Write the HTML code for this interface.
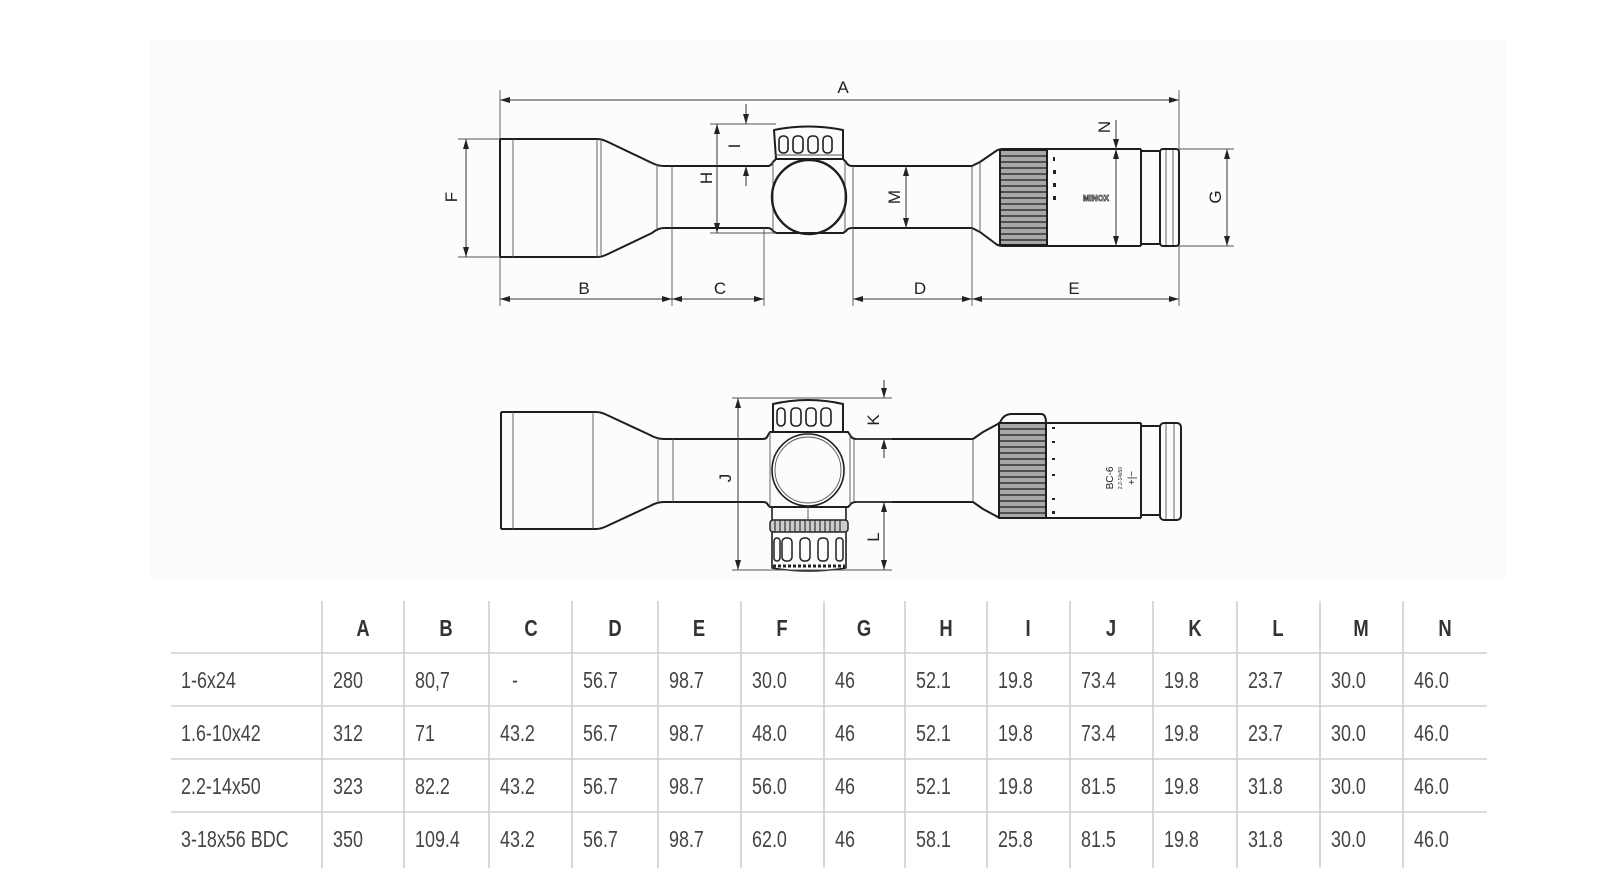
<!DOCTYPE html>
<html><head><meta charset="utf-8"><style>
html,body{margin:0;padding:0;background:#fff;}
svg{display:block;}
.o{fill:none;stroke:#1e1e1e;stroke-width:2;stroke-linejoin:round;}
.t{fill:none;stroke:#555;stroke-width:0.9;}
.d{fill:none;stroke:#333;stroke-width:1;}
.lbl{font-family:"Liberation Sans Narrow","Liberation Sans",sans-serif;font-size:17px;fill:#222;}
.th{font-family:"Liberation Sans Narrow","Liberation Sans",sans-serif;font-size:23px;fill:#333;font-weight:bold;}
.td{font-family:"Liberation Sans Narrow","Liberation Sans",sans-serif;font-size:23px;fill:#444;}
.g{stroke:#cfcfcf;stroke-width:1.6;}
</style></head><body>
<svg width="1601" height="894" viewBox="0 0 1601 894" xmlns="http://www.w3.org/2000/svg">
<defs>
<marker id="ar" viewBox="0 0 10 6" refX="10" refY="3" markerWidth="10" markerHeight="6" markerUnits="userSpaceOnUse" orient="auto-start-reverse"><path d="M0,0 L10,3 L0,6 z" fill="#222"/></marker>
</defs>
<rect x="150" y="40" width="1356" height="542" fill="#fcfcfc"/>

<!-- ===== TOP SCOPE ===== -->
<line class="t" x1="500" y1="90" x2="500" y2="306"/>
<line class="t" x1="1179" y1="90" x2="1179" y2="306"/>
<line class="d" x1="500" y1="100" x2="1179" y2="100" marker-start="url(#ar)" marker-end="url(#ar)"/>
<text class="lbl" x="843" y="93" text-anchor="middle">A</text>
<path class="o" d="M500,139 L597,139 Q602,139 608,142 L652,163 Q658,166 664,166 L768,166 Q771,166 773,162 L776,159 L843,159 L846,162 Q848,166 852,166 L972,166 L980,162 L996,151 Q999,149 1003,149 L1141,149"/>
<path class="o" d="M500,257 L597,257 Q602,257 608,254 L652,233 Q658,228 664,228 L768,228 Q771,228 773,231 L776,233 L843,233 L846,231 Q848,228 852,228 L972,228 L980,232 L996,244 Q999,246 1003,246 L1141,246"/>
<line class="o" x1="500" y1="139" x2="500" y2="257"/>
<line class="t" x1="513" y1="139" x2="513" y2="257"/>
<line class="t" x1="597" y1="139" x2="597" y2="257"/>
<line class="t" x1="601" y1="141" x2="601" y2="255"/>
<line class="t" x1="657" y1="164" x2="657" y2="230"/>
<line class="t" x1="672" y1="166" x2="672" y2="228"/>
<line class="t" x1="773" y1="162" x2="773" y2="231"/>
<line class="t" x1="845" y1="162" x2="845" y2="231"/>
<line class="t" x1="853" y1="166" x2="853" y2="228"/>
<path class="o" d="M776,159 L774,130 Q808,123 843,130 L843,159"/>
<line class="t" x1="775" y1="155" x2="843" y2="155"/>
<g class="o" style="stroke-width:1.6">
<rect x="779" y="136" width="9" height="17" rx="4"/><rect x="793" y="136" width="10" height="17" rx="4"/><rect x="808" y="136" width="10" height="17" rx="4"/><rect x="823" y="136" width="9" height="17" rx="4"/>
</g>
<circle class="o" cx="809" cy="197" r="37" style="stroke-width:2.4"/>
<line class="t" x1="972" y1="166" x2="972" y2="228"/>
<line class="t" x1="980" y1="162" x2="980" y2="232"/>
<rect x="1000" y="150" width="47" height="95" fill="#a8a8a8" stroke="#1e1e1e" stroke-width="2"/>
<g stroke="#333" stroke-width="1.4">
<line x1="1001" y1="156" x2="1046" y2="156"/><line x1="1001" y1="162" x2="1046" y2="162"/><line x1="1001" y1="168" x2="1046" y2="168"/><line x1="1001" y1="174" x2="1046" y2="174"/><line x1="1001" y1="180" x2="1046" y2="180"/><line x1="1001" y1="186" x2="1046" y2="186"/><line x1="1001" y1="192" x2="1046" y2="192"/><line x1="1001" y1="198" x2="1046" y2="198"/><line x1="1001" y1="204" x2="1046" y2="204"/><line x1="1001" y1="210" x2="1046" y2="210"/><line x1="1001" y1="216" x2="1046" y2="216"/><line x1="1001" y1="222" x2="1046" y2="222"/><line x1="1001" y1="228" x2="1046" y2="228"/><line x1="1001" y1="234" x2="1046" y2="234"/><line x1="1001" y1="240" x2="1046" y2="240"/>
</g>
<line class="o" x1="1141" y1="149" x2="1141" y2="246"/>
<path class="o" d="M1141,151 L1160,151 M1141,244 L1160,244"/>
<rect class="o" x="1160" y="149" width="19" height="97" rx="3"/>
<line class="t" x1="1166" y1="150" x2="1166" y2="245"/>
<line class="t" x1="1173" y1="150" x2="1173" y2="245"/>
<g fill="#222"><rect x="1053" y="157" width="2" height="4"/><rect x="1053" y="170" width="3" height="4"/><rect x="1053" y="183" width="3" height="4"/><rect x="1053" y="196" width="3" height="4"/></g>
<text x="1096" y="201" font-family="Liberation Sans" font-size="8" font-weight="bold" fill="#fff" stroke="#333" stroke-width="0.7" text-anchor="middle">MINOX</text>
<line class="t" x1="458" y1="139" x2="500" y2="139"/><line class="t" x1="458" y1="257" x2="500" y2="257"/>
<line class="d" x1="466" y1="139" x2="466" y2="257" marker-start="url(#ar)" marker-end="url(#ar)"/>
<text class="lbl" transform="translate(457,197) rotate(-90)" text-anchor="middle">F</text>
<line class="t" x1="710" y1="124" x2="776" y2="124"/><line class="t" x1="710" y1="233" x2="776" y2="233"/>
<line class="d" x1="717" y1="124" x2="717" y2="233" marker-start="url(#ar)" marker-end="url(#ar)"/>
<text class="lbl" transform="translate(712,178) rotate(-90)" text-anchor="middle">H</text>
<line class="d" x1="746" y1="104" x2="746" y2="124" marker-end="url(#ar)"/>
<line class="d" x1="746" y1="186" x2="746" y2="166" marker-end="url(#ar)"/>
<text class="lbl" transform="translate(740,146) rotate(-90)" text-anchor="middle">I</text>
<line class="d" x1="906" y1="166" x2="906" y2="228" marker-start="url(#ar)" marker-end="url(#ar)"/>
<text class="lbl" transform="translate(900,197) rotate(-90)" text-anchor="middle">M</text>
<line class="d" x1="1116" y1="120" x2="1116" y2="149" marker-end="url(#ar)"/>
<line class="d" x1="1116" y1="149" x2="1116" y2="246" marker-start="url(#ar)" marker-end="url(#ar)"/>
<text class="lbl" transform="translate(1110,127) rotate(-90)" text-anchor="middle">N</text>
<line class="t" x1="1179" y1="149" x2="1234" y2="149"/><line class="t" x1="1179" y1="246" x2="1234" y2="246"/>
<line class="d" x1="1227" y1="149" x2="1227" y2="246" marker-start="url(#ar)" marker-end="url(#ar)"/>
<text class="lbl" transform="translate(1221,197) rotate(-90)" text-anchor="middle">G</text>
<line class="t" x1="672" y1="228" x2="672" y2="306"/>
<line class="t" x1="764" y1="228" x2="764" y2="306"/>
<line class="t" x1="853" y1="228" x2="853" y2="306"/>
<line class="t" x1="972" y1="228" x2="972" y2="306"/>
<line class="d" x1="500" y1="299" x2="672" y2="299" marker-start="url(#ar)" marker-end="url(#ar)"/>
<line class="d" x1="672" y1="299" x2="764" y2="299" marker-start="url(#ar)" marker-end="url(#ar)"/>
<line class="d" x1="853" y1="299" x2="972" y2="299" marker-start="url(#ar)" marker-end="url(#ar)"/>
<line class="d" x1="972" y1="299" x2="1179" y2="299" marker-start="url(#ar)" marker-end="url(#ar)"/>
<text class="lbl" x="584" y="294" text-anchor="middle">B</text>
<text class="lbl" x="720" y="294" text-anchor="middle">C</text>
<text class="lbl" x="920" y="294" text-anchor="middle">D</text>
<text class="lbl" x="1074" y="294" text-anchor="middle">E</text>

<!-- ===== BOTTOM SCOPE ===== -->
<path class="o" d="M501,412 L596,412 Q601,412 607,415 L650,435 Q657,439 664,439 L763,439 Q767,439 768,435 L770,432 L848,432 L850,435 Q852,439 856,439 L973,439 L983,432 L996,425 Q999,423 1003,423 L1141,423"/>
<path class="o" d="M501,529 L596,529 Q601,529 607,526 L650,506 Q657,502 664,502 L763,502 Q767,502 768,505 L770,507 L848,507 L850,505 Q852,502 856,502 L973,502 L983,509 L996,516 Q999,518 1003,518 L1141,518"/>
<line class="o" x1="501" y1="412" x2="501" y2="529"/>
<line class="t" x1="513" y1="412" x2="513" y2="529"/>
<line class="t" x1="593" y1="412" x2="593" y2="529"/>
<line class="t" x1="658" y1="437" x2="658" y2="504"/>
<line class="t" x1="673" y1="439" x2="673" y2="502"/>
<line class="t" x1="770" y1="432" x2="770" y2="507"/>
<line class="t" x1="850" y1="435" x2="850" y2="505"/>
<line class="t" x1="854" y1="439" x2="854" y2="502"/>
<path class="o" d="M773,432 L773,404 Q808,396 843,404 L843,432"/>
<g class="o" style="stroke-width:1.6">
<rect x="777" y="408" width="8" height="18" rx="4"/><rect x="791" y="408" width="10" height="18" rx="4"/><rect x="806" y="408" width="10" height="18" rx="4"/><rect x="821" y="408" width="10" height="18" rx="4"/>
</g>
<circle class="o" cx="808" cy="470" r="36" style="stroke-width:1.6"/>
<circle class="t" cx="808" cy="470" r="33"/>
<path class="o" d="M772,507 L772,568 Q808,574 846,568 L846,507" style="stroke-width:1.6"/>
<rect x="770" y="520" width="78" height="12" rx="3" fill="#ccc" stroke="#222" stroke-width="1.5"/>
<g stroke="#333" stroke-width="1.2"><line x1="775" y1="520" x2="775" y2="532"/><line x1="780" y1="520" x2="780" y2="532"/><line x1="785" y1="520" x2="785" y2="532"/><line x1="790" y1="520" x2="790" y2="532"/><line x1="795" y1="520" x2="795" y2="532"/><line x1="800" y1="520" x2="800" y2="532"/><line x1="805" y1="520" x2="805" y2="532"/><line x1="810" y1="520" x2="810" y2="532"/><line x1="815" y1="520" x2="815" y2="532"/><line x1="820" y1="520" x2="820" y2="532"/><line x1="825" y1="520" x2="825" y2="532"/><line x1="830" y1="520" x2="830" y2="532"/><line x1="835" y1="520" x2="835" y2="532"/><line x1="840" y1="520" x2="840" y2="532"/></g>
<g class="o" style="stroke-width:1.5">
<rect x="774" y="538" width="6" height="23" rx="3"/><rect x="782" y="538" width="10" height="23" rx="4"/><rect x="800" y="538" width="10" height="23" rx="4"/><rect x="818" y="538" width="10" height="23" rx="4"/><rect x="836" y="538" width="7" height="23" rx="3"/>
</g>
<line x1="773" y1="566" x2="845" y2="566" stroke="#222" stroke-width="3" stroke-dasharray="3,2"/>
<line class="t" x1="808" y1="507" x2="808" y2="520"/>
<line class="t" x1="973" y1="439" x2="973" y2="502"/>
<path class="o" d="M1000,423 Q1003,414 1012,414 L1041,414 Q1046,414 1046,423"/>
<rect x="999" y="423" width="47" height="95" fill="#a8a8a8" stroke="#1e1e1e" stroke-width="2"/>
<g stroke="#333" stroke-width="1.4">
<line x1="1000" y1="429" x2="1045" y2="429"/><line x1="1000" y1="435" x2="1045" y2="435"/><line x1="1000" y1="441" x2="1045" y2="441"/><line x1="1000" y1="447" x2="1045" y2="447"/><line x1="1000" y1="453" x2="1045" y2="453"/><line x1="1000" y1="459" x2="1045" y2="459"/><line x1="1000" y1="465" x2="1045" y2="465"/><line x1="1000" y1="471" x2="1045" y2="471"/><line x1="1000" y1="477" x2="1045" y2="477"/><line x1="1000" y1="483" x2="1045" y2="483"/><line x1="1000" y1="489" x2="1045" y2="489"/><line x1="1000" y1="495" x2="1045" y2="495"/><line x1="1000" y1="501" x2="1045" y2="501"/><line x1="1000" y1="507" x2="1045" y2="507"/><line x1="1000" y1="513" x2="1045" y2="513"/>
</g>
<line class="o" x1="1141" y1="423" x2="1141" y2="518"/>
<path class="o" d="M1141,426 L1160,426 M1141,515 L1160,515"/>
<rect class="o" x="1160" y="423" width="21" height="97" rx="4"/>
<line class="t" x1="1166" y1="424" x2="1166" y2="519"/>
<line class="t" x1="1174" y1="424" x2="1174" y2="519"/>
<g fill="#222"><rect x="1052" y="427" width="3" height="2"/><rect x="1052" y="441" width="3" height="2"/><rect x="1052" y="458" width="3" height="2"/><rect x="1052" y="474" width="3" height="2"/><rect x="1052" y="498" width="3" height="2"/><rect x="1052" y="511" width="3" height="3"/></g>
<text transform="translate(1113,478) rotate(-90)" font-family="Liberation Sans Narrow,Liberation Sans,sans-serif" font-size="10" fill="#222" text-anchor="middle">BC-6</text>
<text transform="translate(1122,478) rotate(-90)" font-family="Liberation Sans" font-size="5" fill="#222" text-anchor="middle">2.2-14x50</text>
<text transform="translate(1135,478) rotate(-90)" font-family="Liberation Sans" font-size="10" fill="#222" text-anchor="middle">+|−</text>
<line class="t" x1="732" y1="398" x2="892" y2="398"/>
<line class="t" x1="732" y1="570" x2="892" y2="570"/>
<line class="d" x1="738" y1="398" x2="738" y2="570" marker-start="url(#ar)" marker-end="url(#ar)"/>
<text class="lbl" transform="translate(731,478) rotate(-90)" text-anchor="middle">J</text>
<line class="d" x1="884" y1="380" x2="884" y2="398" marker-end="url(#ar)"/>
<line class="d" x1="884" y1="458" x2="884" y2="439" marker-end="url(#ar)"/>
<line class="t" x1="856" y1="439" x2="892" y2="439"/>
<text class="lbl" transform="translate(879,420) rotate(-90)" text-anchor="middle">K</text>
<line class="t" x1="856" y1="502" x2="892" y2="502"/>
<line class="d" x1="884" y1="502" x2="884" y2="570" marker-start="url(#ar)" marker-end="url(#ar)"/>
<text class="lbl" transform="translate(879,537) rotate(-90)" text-anchor="middle">L</text>

<!-- ===== TABLE ===== -->
<g class="g">
<line x1="171" y1="653" x2="1487" y2="653"/>
<line x1="171" y1="706" x2="1487" y2="706"/>
<line x1="171" y1="759" x2="1487" y2="759"/>
<line x1="171" y1="812" x2="1487" y2="812"/>
<line x1="322" y1="601" x2="322" y2="868"/>
<line x1="404" y1="601" x2="404" y2="868"/>
<line x1="489" y1="601" x2="489" y2="868"/>
<line x1="572" y1="601" x2="572" y2="868"/>
<line x1="658" y1="601" x2="658" y2="868"/>
<line x1="741" y1="601" x2="741" y2="868"/>
<line x1="824" y1="601" x2="824" y2="868"/>
<line x1="905" y1="601" x2="905" y2="868"/>
<line x1="987" y1="601" x2="987" y2="868"/>
<line x1="1070" y1="601" x2="1070" y2="868"/>
<line x1="1153" y1="601" x2="1153" y2="868"/>
<line x1="1237" y1="601" x2="1237" y2="868"/>
<line x1="1320" y1="601" x2="1320" y2="868"/>
<line x1="1403" y1="601" x2="1403" y2="868"/>
</g>
<g class="th" text-anchor="middle">
<text transform="translate(363,636) scale(0.8,1)">A</text>
<text transform="translate(446,636) scale(0.8,1)">B</text>
<text transform="translate(531,636) scale(0.8,1)">C</text>
<text transform="translate(615,636) scale(0.8,1)">D</text>
<text transform="translate(699,636) scale(0.8,1)">E</text>
<text transform="translate(782,636) scale(0.8,1)">F</text>
<text transform="translate(864,636) scale(0.8,1)">G</text>
<text transform="translate(946,636) scale(0.8,1)">H</text>
<text transform="translate(1028,636) scale(0.8,1)">I</text>
<text transform="translate(1111,636) scale(0.8,1)">J</text>
<text transform="translate(1195,636) scale(0.8,1)">K</text>
<text transform="translate(1278,636) scale(0.8,1)">L</text>
<text transform="translate(1361,636) scale(0.8,1)">M</text>
<text transform="translate(1445,636) scale(0.8,1)">N</text>
</g>
<g class="td">
<text transform="translate(181,688) scale(0.78,1)">1-6x24</text>
<text transform="translate(333,688) scale(0.78,1)">280</text>
<text transform="translate(415,688) scale(0.78,1)">80,7</text>
<text transform="translate(512,688) scale(0.78,1)">-</text>
<text transform="translate(583,688) scale(0.78,1)">56.7</text>
<text transform="translate(669,688) scale(0.78,1)">98.7</text>
<text transform="translate(752,688) scale(0.78,1)">30.0</text>
<text transform="translate(835,688) scale(0.78,1)">46</text>
<text transform="translate(916,688) scale(0.78,1)">52.1</text>
<text transform="translate(998,688) scale(0.78,1)">19.8</text>
<text transform="translate(1081,688) scale(0.78,1)">73.4</text>
<text transform="translate(1164,688) scale(0.78,1)">19.8</text>
<text transform="translate(1248,688) scale(0.78,1)">23.7</text>
<text transform="translate(1331,688) scale(0.78,1)">30.0</text>
<text transform="translate(1414,688) scale(0.78,1)">46.0</text>

<text transform="translate(181,741) scale(0.78,1)">1.6-10x42</text>
<text transform="translate(333,741) scale(0.78,1)">312</text>
<text transform="translate(415,741) scale(0.78,1)">71</text>
<text transform="translate(500,741) scale(0.78,1)">43.2</text>
<text transform="translate(583,741) scale(0.78,1)">56.7</text>
<text transform="translate(669,741) scale(0.78,1)">98.7</text>
<text transform="translate(752,741) scale(0.78,1)">48.0</text>
<text transform="translate(835,741) scale(0.78,1)">46</text>
<text transform="translate(916,741) scale(0.78,1)">52.1</text>
<text transform="translate(998,741) scale(0.78,1)">19.8</text>
<text transform="translate(1081,741) scale(0.78,1)">73.4</text>
<text transform="translate(1164,741) scale(0.78,1)">19.8</text>
<text transform="translate(1248,741) scale(0.78,1)">23.7</text>
<text transform="translate(1331,741) scale(0.78,1)">30.0</text>
<text transform="translate(1414,741) scale(0.78,1)">46.0</text>

<text transform="translate(181,794) scale(0.78,1)">2.2-14x50</text>
<text transform="translate(333,794) scale(0.78,1)">323</text>
<text transform="translate(415,794) scale(0.78,1)">82.2</text>
<text transform="translate(500,794) scale(0.78,1)">43.2</text>
<text transform="translate(583,794) scale(0.78,1)">56.7</text>
<text transform="translate(669,794) scale(0.78,1)">98.7</text>
<text transform="translate(752,794) scale(0.78,1)">56.0</text>
<text transform="translate(835,794) scale(0.78,1)">46</text>
<text transform="translate(916,794) scale(0.78,1)">52.1</text>
<text transform="translate(998,794) scale(0.78,1)">19.8</text>
<text transform="translate(1081,794) scale(0.78,1)">81.5</text>
<text transform="translate(1164,794) scale(0.78,1)">19.8</text>
<text transform="translate(1248,794) scale(0.78,1)">31.8</text>
<text transform="translate(1331,794) scale(0.78,1)">30.0</text>
<text transform="translate(1414,794) scale(0.78,1)">46.0</text>

<text transform="translate(181,847) scale(0.78,1)">3-18x56 BDC</text>
<text transform="translate(333,847) scale(0.78,1)">350</text>
<text transform="translate(415,847) scale(0.78,1)">109.4</text>
<text transform="translate(500,847) scale(0.78,1)">43.2</text>
<text transform="translate(583,847) scale(0.78,1)">56.7</text>
<text transform="translate(669,847) scale(0.78,1)">98.7</text>
<text transform="translate(752,847) scale(0.78,1)">62.0</text>
<text transform="translate(835,847) scale(0.78,1)">46</text>
<text transform="translate(916,847) scale(0.78,1)">58.1</text>
<text transform="translate(998,847) scale(0.78,1)">25.8</text>
<text transform="translate(1081,847) scale(0.78,1)">81.5</text>
<text transform="translate(1164,847) scale(0.78,1)">19.8</text>
<text transform="translate(1248,847) scale(0.78,1)">31.8</text>
<text transform="translate(1331,847) scale(0.78,1)">30.0</text>
<text transform="translate(1414,847) scale(0.78,1)">46.0</text>
</g>
</svg>
</body></html>
